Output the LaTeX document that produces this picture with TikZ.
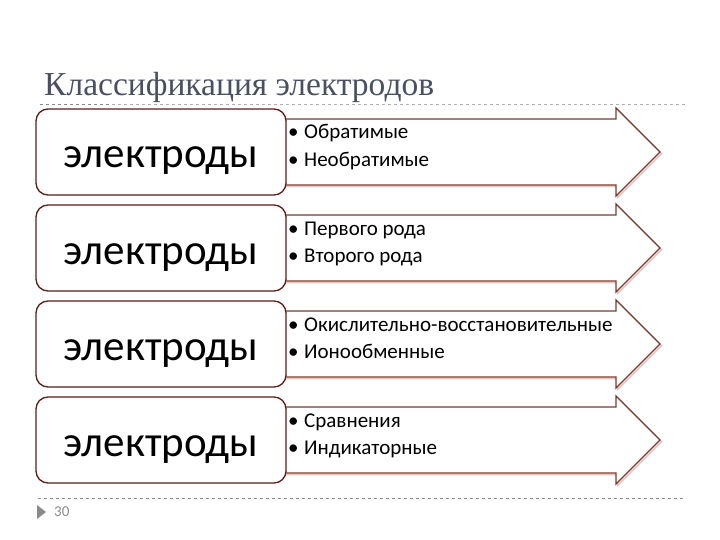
\documentclass[tikz,border=0pt]{standalone}
\usepackage{fontspec}
\setmainfont{Carlito}
\newfontfamily\titlefont{Liberation Serif}
\usetikzlibrary{positioning, calc}
\definecolor{arrowbrown}{HTML}{7B3A2F}
\definecolor{boxmaroon}{HTML}{5A1E1A}
\definecolor{shadowpink}{HTML}{EBC2C2}
\definecolor{titlegray}{HTML}{4A5061}
\definecolor{slidegray}{HTML}{8A8A8A}

\begin{document}
\begin{tikzpicture}[x=1pt, y=-1pt,
    classbox/.style={draw=boxmaroon, line width=1.3pt, fill=white, rounded corners=12pt,
        minimum width=250pt, minimum height=86pt, inner sep=0pt, text height=32pt, text depth=0pt,
        font=\fontsize{43}{46}\selectfont},
    itemlist/.style={align=left, inner sep=0pt, anchor=base west, font=\fontsize{21}{27.5}\selectfont},
    arrowbody/.style={draw=arrowbrown, line width=1.3pt, fill=white, line join=miter},
    arrowshadow/.style={draw=shadowpink, line width=1.5pt}]
    \useasboundingbox (0,0) rectangle (720,540);

    % Title
    \node[anchor=base west, inner sep=0pt, text=titlegray, font=\titlefont\fontsize{33.5}{36}\selectfont] (title) at (44,96) {Классификация электродов};
    \draw[dashed, slidegray!70, line width=0.7pt] (40,104) -- (685,104);
    \draw[dashed, slidegray, line width=1pt] (40,104.5) -- (110,104.5);

    % Rows
    \foreach \cy/\itemA/\itemB [count=\i] in {152/Обратимые/Необратимые,
        248/Первого рода/Второго рода,
        344/Окислительно-восстановительные/Ионообменные,
        440/Сравнения/Индикаторные} {
        \draw[arrowshadow] (281.5,\cy-31.5) -- (617.5,\cy-31.5) -- (617.5,\cy-42.5) -- (661.5,\cy+1.5)
            -- (617.5,\cy+45.5) -- (617.5,\cy+34.5) -- (281.5,\cy+34.5);
        \draw[arrowbody] (280,\cy-33) -- (616,\cy-33) -- (616,\cy-44) -- (660,\cy)
            -- (616,\cy+44) -- (616,\cy+33) -- (280,\cy+33) -- cycle;
        \node[classbox] (box\i) at (161,\cy) {электроды};
        \node[itemlist] (items\i) at (288,\cy+14.5)
            {\makebox[16pt][l]{•}\itemA\\\makebox[16pt][l]{•}\itemB};
    }

    % Footer
    \draw[dashed, slidegray, line width=0.7pt] (38,498) -- (685,498);
    \fill[slidegray] (37,505) -- (46,512) -- (37,519) -- cycle;
    \node[anchor=west, inner sep=0pt, text=slidegray, font=\fontsize{15}{17}\selectfont] (pagenum) at (54,512) {30};
\end{tikzpicture}
\end{document}
